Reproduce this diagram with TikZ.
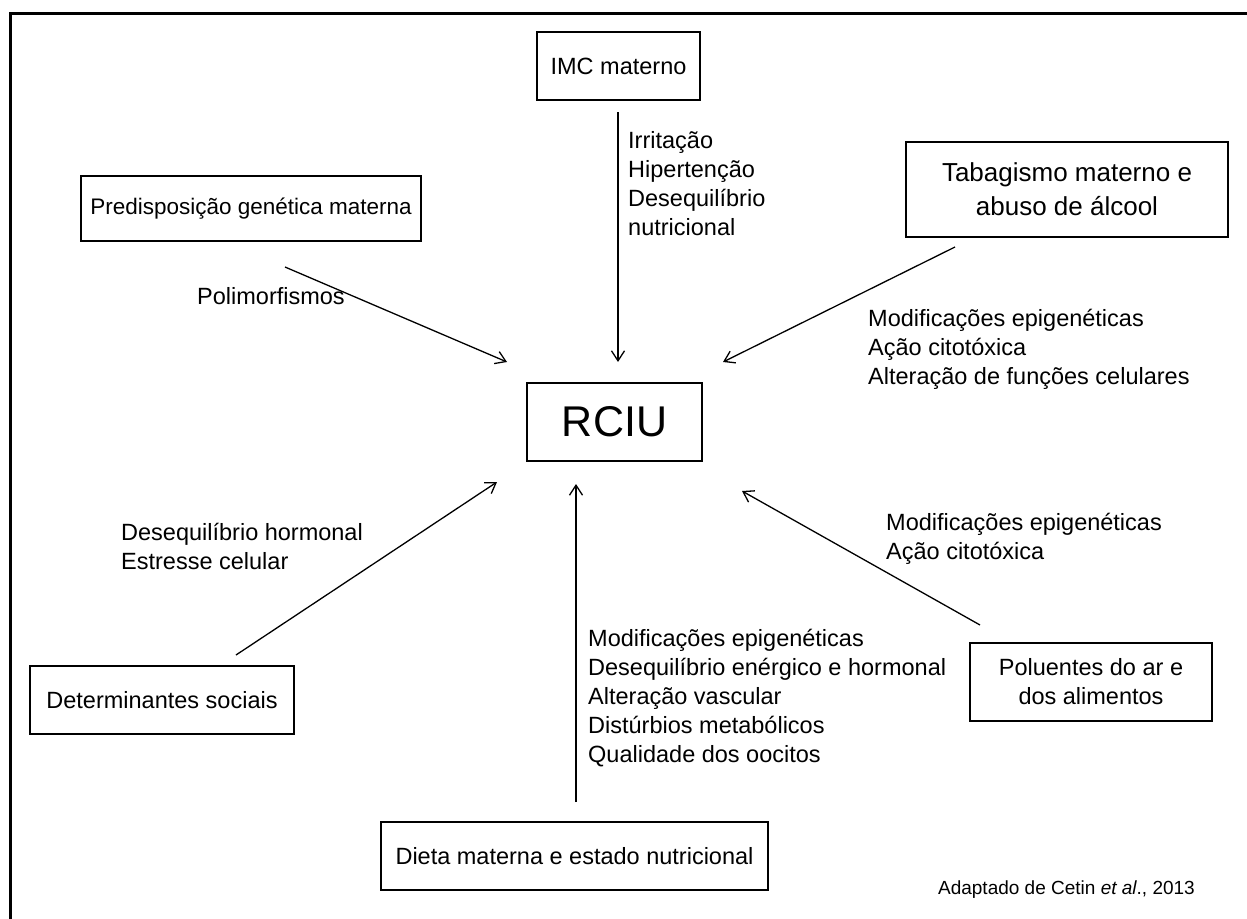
\documentclass[tikz,border=0pt]{standalone}
\usepackage{fontspec}
\setmainfont{Liberation Sans}
\usetikzlibrary{arrows.meta}
\begin{document}
\begin{tikzpicture}[x=1pt,y=-1pt,
  box/.style={draw, line width=2.6pt, inner sep=0pt, align=center, font=\fontsize{23.5}{29}\selectfont},
  arr/.style={-{Straight Barb[length=10pt,width=13pt]}, line width=1.3pt},
  lbl/.style={anchor=base west, inner sep=0pt, font=\fontsize{23.5}{29}\selectfont}]
\useasboundingbox (0,0) rectangle (1247,918);
\fill[white] (0,0) rectangle (1247,918);
\draw[line width=3pt] (10,930) -- (10,13) -- (1260,13);

% boxes
\node[box, minimum width=163pt, minimum height=68pt] (imc) at (618.5,66) {IMC materno};
\node[box, minimum width=340pt, minimum height=65pt, font=\fontsize{22.5}{28}\selectfont] (pred) at (251,208.5) {Predisposição genética materna};
\node[box, minimum width=322pt, minimum height=95pt, font=\fontsize{26}{34}\selectfont] (tab) at (1067,189.5) {Tabagismo materno e\\abuso de álcool};
\node[box, minimum width=175pt, minimum height=78pt, font=\fontsize{43}{50}\selectfont] (rciu) at (614.5,422) {RCIU};
\node[box, minimum width=264pt, minimum height=68pt] (det) at (162,700) {Determinantes sociais};
\node[box, minimum width=387pt, minimum height=68pt] (dieta) at (574.5,856) {Dieta materna e estado nutricional};
\node[box, minimum width=242pt, minimum height=78pt] (pol) at (1091,682) {Poluentes do ar e\\dos alimentos};

% arrow ends
\coordinate (imcA) at (618,112);
\coordinate (imcB) at (618,362);
\coordinate (predA) at (285,267);
\coordinate (predB) at (507,362);
\coordinate (tabA) at (955,247);
\coordinate (tabB) at (723,362);
\coordinate (detA) at (236,655);
\coordinate (detB) at (497,482);
\coordinate (dietaA) at (576,802);
\coordinate (dietaB) at (576,484);
\coordinate (polA) at (980,625);
\coordinate (polB) at (742,491);

\draw[arr] (imcA) -- (imcB);
\draw[arr] (predA) -- (predB);
\draw[arr] (tabA) -- (tabB);
\draw[arr] (detA) -- (detB);
\draw[arr] (dietaA) -- (dietaB);
\draw[arr] (polA) -- (polB);

% labels
\node[lbl] (limc) at (628,148) {\begin{tabular}[t]{@{}l@{}}Irritação\\Hipertenção\\Desequilíbrio\\nutricional\end{tabular}};
\node[lbl] (lpred) at (197,304) {Polimorfismos};
\node[lbl] (ltab) at (868,326) {\begin{tabular}[t]{@{}l@{}}Modificações epigenéticas\\Ação citotóxica\\Alteração de funções celulares\end{tabular}};
\node[lbl] (lpol) at (886,530) {\begin{tabular}[t]{@{}l@{}}Modificações epigenéticas\\Ação citotóxica\end{tabular}};
\node[lbl] (ldet) at (121,540) {\begin{tabular}[t]{@{}l@{}}Desequilíbrio hormonal\\Estresse celular\end{tabular}};
\node[lbl] (ldieta) at (588,646) {\begin{tabular}[t]{@{}l@{}}Modificações epigenéticas\\Desequilíbrio enérgico e hormonal\\Alteração vascular\\Distúrbios metabólicos\\Qualidade dos oocitos\end{tabular}};
\node[anchor=base east, inner sep=0pt, font=\fontsize{19}{23}\selectfont] (src) at (1195,894) {Adaptado de Cetin \textit{et al}., 2013};
\end{tikzpicture}
\end{document}
